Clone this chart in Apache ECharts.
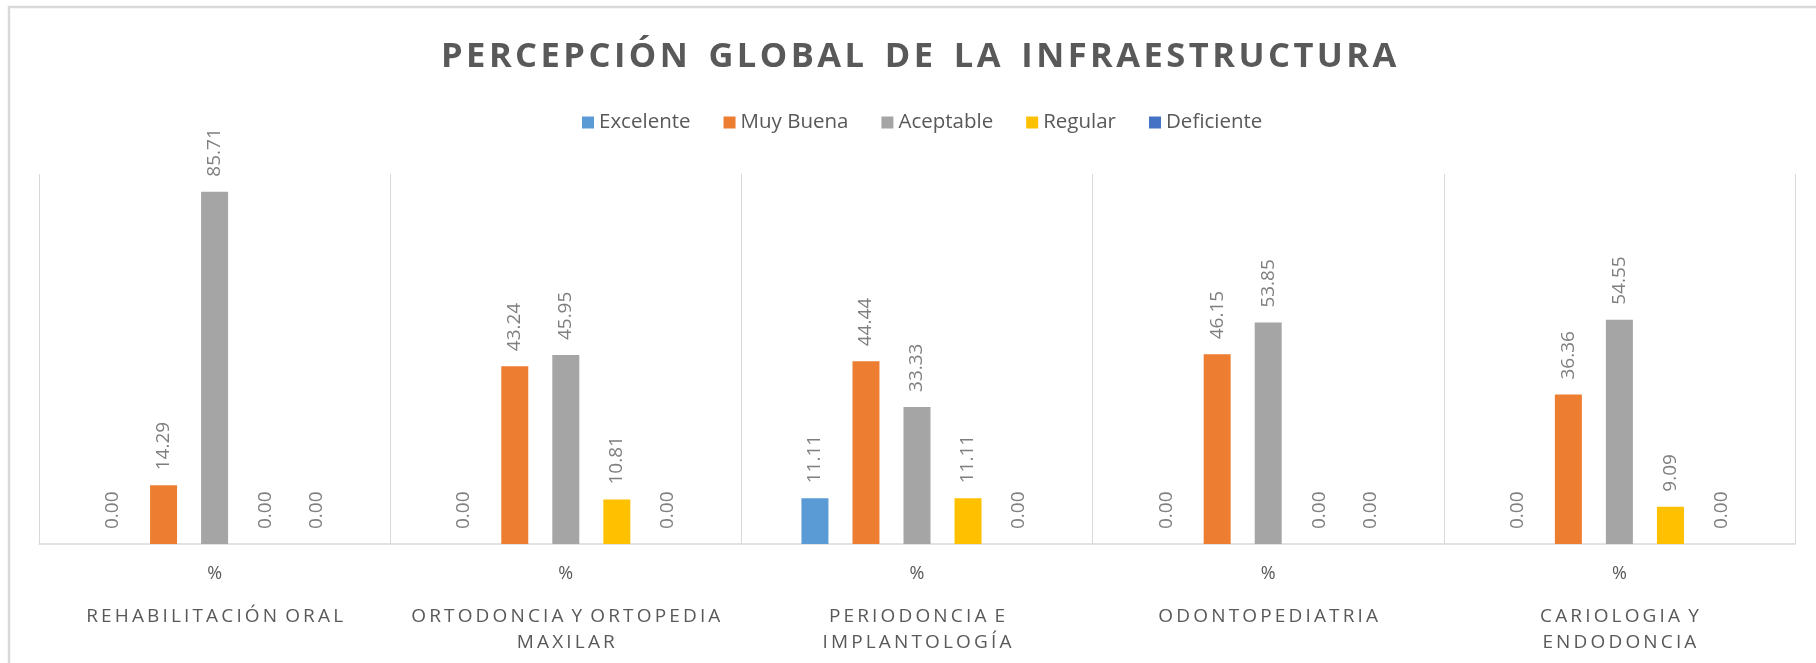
<!DOCTYPE html>
<html>
<head>
<meta charset="utf-8">
<title>Percepción global de la infraestructura</title>
<script src="https://cdn.jsdelivr.net/npm/echarts@6/dist/echarts.min.js"></script>
<style>
  html, body { margin: 0; padding: 0; background: #fff; }
  #chart { width: 1816px; height: 663px; }
</style>
</head>
<body>
<div id="chart"></div>
<script>
  "use strict";

  // Chart data
  const titleText = "PERCEPCIÓN GLOBAL DE LA INFRAESTRUCTURA";
  const subLabel = "%";
  const categories = [
    "REHABILITACIÓN ORAL",
    "ORTODONCIA Y ORTOPEDIA\nMAXILAR",
    "PERIODONCIA E\nIMPLANTOLOGÍA",
    "ODONTOPEDIATRIA",
    "CARIOLOGIA Y\nENDODONCIA",
  ];
  const seriesNames = ["Excelente", "Muy Buena", "Aceptable", "Regular", "Deficiente"];
  const excelente = [0, 0, 11.11, 0, 0];
  const muyBuena = [14.29, 43.24, 44.44, 46.15, 36.36];
  const aceptable = [85.71, 45.95, 33.33, 53.85, 54.55];
  const regular = [0, 10.81, 11.11, 0, 9.09];
  const deficiente = [0, 0, 0, 0, 0];

  const seriesValues = [excelente, muyBuena, aceptable, regular, deficiente];
  const seriesColors = ["#5B9BD5", "#ED7D31", "#A5A5A5", "#FFC000", "#4472C4"];

  const FONT = "'Open Sans', 'Noto Sans', sans-serif";
  const GRID = "#d9d9d9";

  /*
    Letter spacing: ECharts text has none, so narrow spaces go between letters
  */
  function spaced(text, gap, wordGap) {
    return text
      .split("\n")
      .map((line) =>
        line
          .split(" ")
          .map((word) => Array.from(word).join(gap))
          .join(wordGap)
      )
      .join("\n");
  }

  function categoryLabel(value) {
    const lines = spaced(value, "\u2009", " \u2009")
      .split("\n")
      .map((l) => `{g|${l}}`)
      .join("\n");

    return `{p|${subLabel}}\n{s| }\n${lines}`;
  }

  function buildSeries() {
    return seriesNames.map((name, i) => ({
      name,
      type: "bar",
      data: seriesValues[i],
      barWidth: 27,
      barGap: "89%",
      itemStyle: { color: seriesColors[i] },
      label: {
        show: true,
        position: "top",
        rotate: 90,
        align: "left",
        verticalAlign: "middle",
        distance: 15,
        color: "#7f7f7f",
        fontFamily: FONT,
        fontSize: 19,
        formatter: (p) => p.value.toFixed(2),
      },
    }));
  }

  const chart = echarts.init(document.getElementById("chart"), null, {
    renderer: "canvas",
  });

  const option = {
    animation: false,
    backgroundColor: "#fff",
    title: {
      // hair spaces between letters, a wider gap between words
      text: spaced(titleText, "\u200A", "\u2002\u200A"),
      left: 436,
      top: 35,
      textStyle: {
        fontFamily: FONT,
        fontWeight: "bold",
        fontSize: 34.5,
        color: "#595959",
      },
    },
    legend: {
      data: seriesNames,
      left: 577,
      top: 107,
      icon: "rect",
      itemWidth: 12,
      itemHeight: 12,
      itemGap: 33,
      textStyle: {
        fontFamily: FONT,
        fontSize: 20.5,
        color: "#595959",
      },
    },
    grid: {
      left: 39,
      right: 21,
      top: 174,
      bottom: 119,
      containLabel: false,
    },
    xAxis: {
      type: "category",
      data: categories,
      boundaryGap: true,
      axisLine: { lineStyle: { color: GRID, width: 1.5 } },
      axisTick: {
        interval: 0,
        length: 110,
        lineStyle: { color: GRID, width: 1 },
      },
      splitLine: {
        show: true,
        interval: 0,
        lineStyle: { color: GRID, width: 1 },
      },
      axisLabel: {
        interval: 0,
        margin: 17,
        formatter: categoryLabel,
        rich: {
          p: { fontFamily: FONT, fontSize: 18, color: "#595959", lineHeight: 26 },
          s: { fontSize: 1, lineHeight: 17 },
          g: { fontFamily: FONT, fontSize: 19, color: "#595959", lineHeight: 25.5 },
        },
      },
    },
    yAxis: {
      type: "value",
      min: 0,
      max: 90,
      show: false,
      splitLine: { show: false },
    },
    graphic: [
      {
        // chart frame, only the top and left edges fall inside the picture
        type: "rect",
        silent: true,
        shape: { x: 9, y: 7, width: 2000, height: 1000 },
        style: { fill: "none", stroke: GRID, lineWidth: 2.5 },
      },
    ],
    series: buildSeries(),
  };

  chart.setOption(option);
</script>
</body>
</html>
